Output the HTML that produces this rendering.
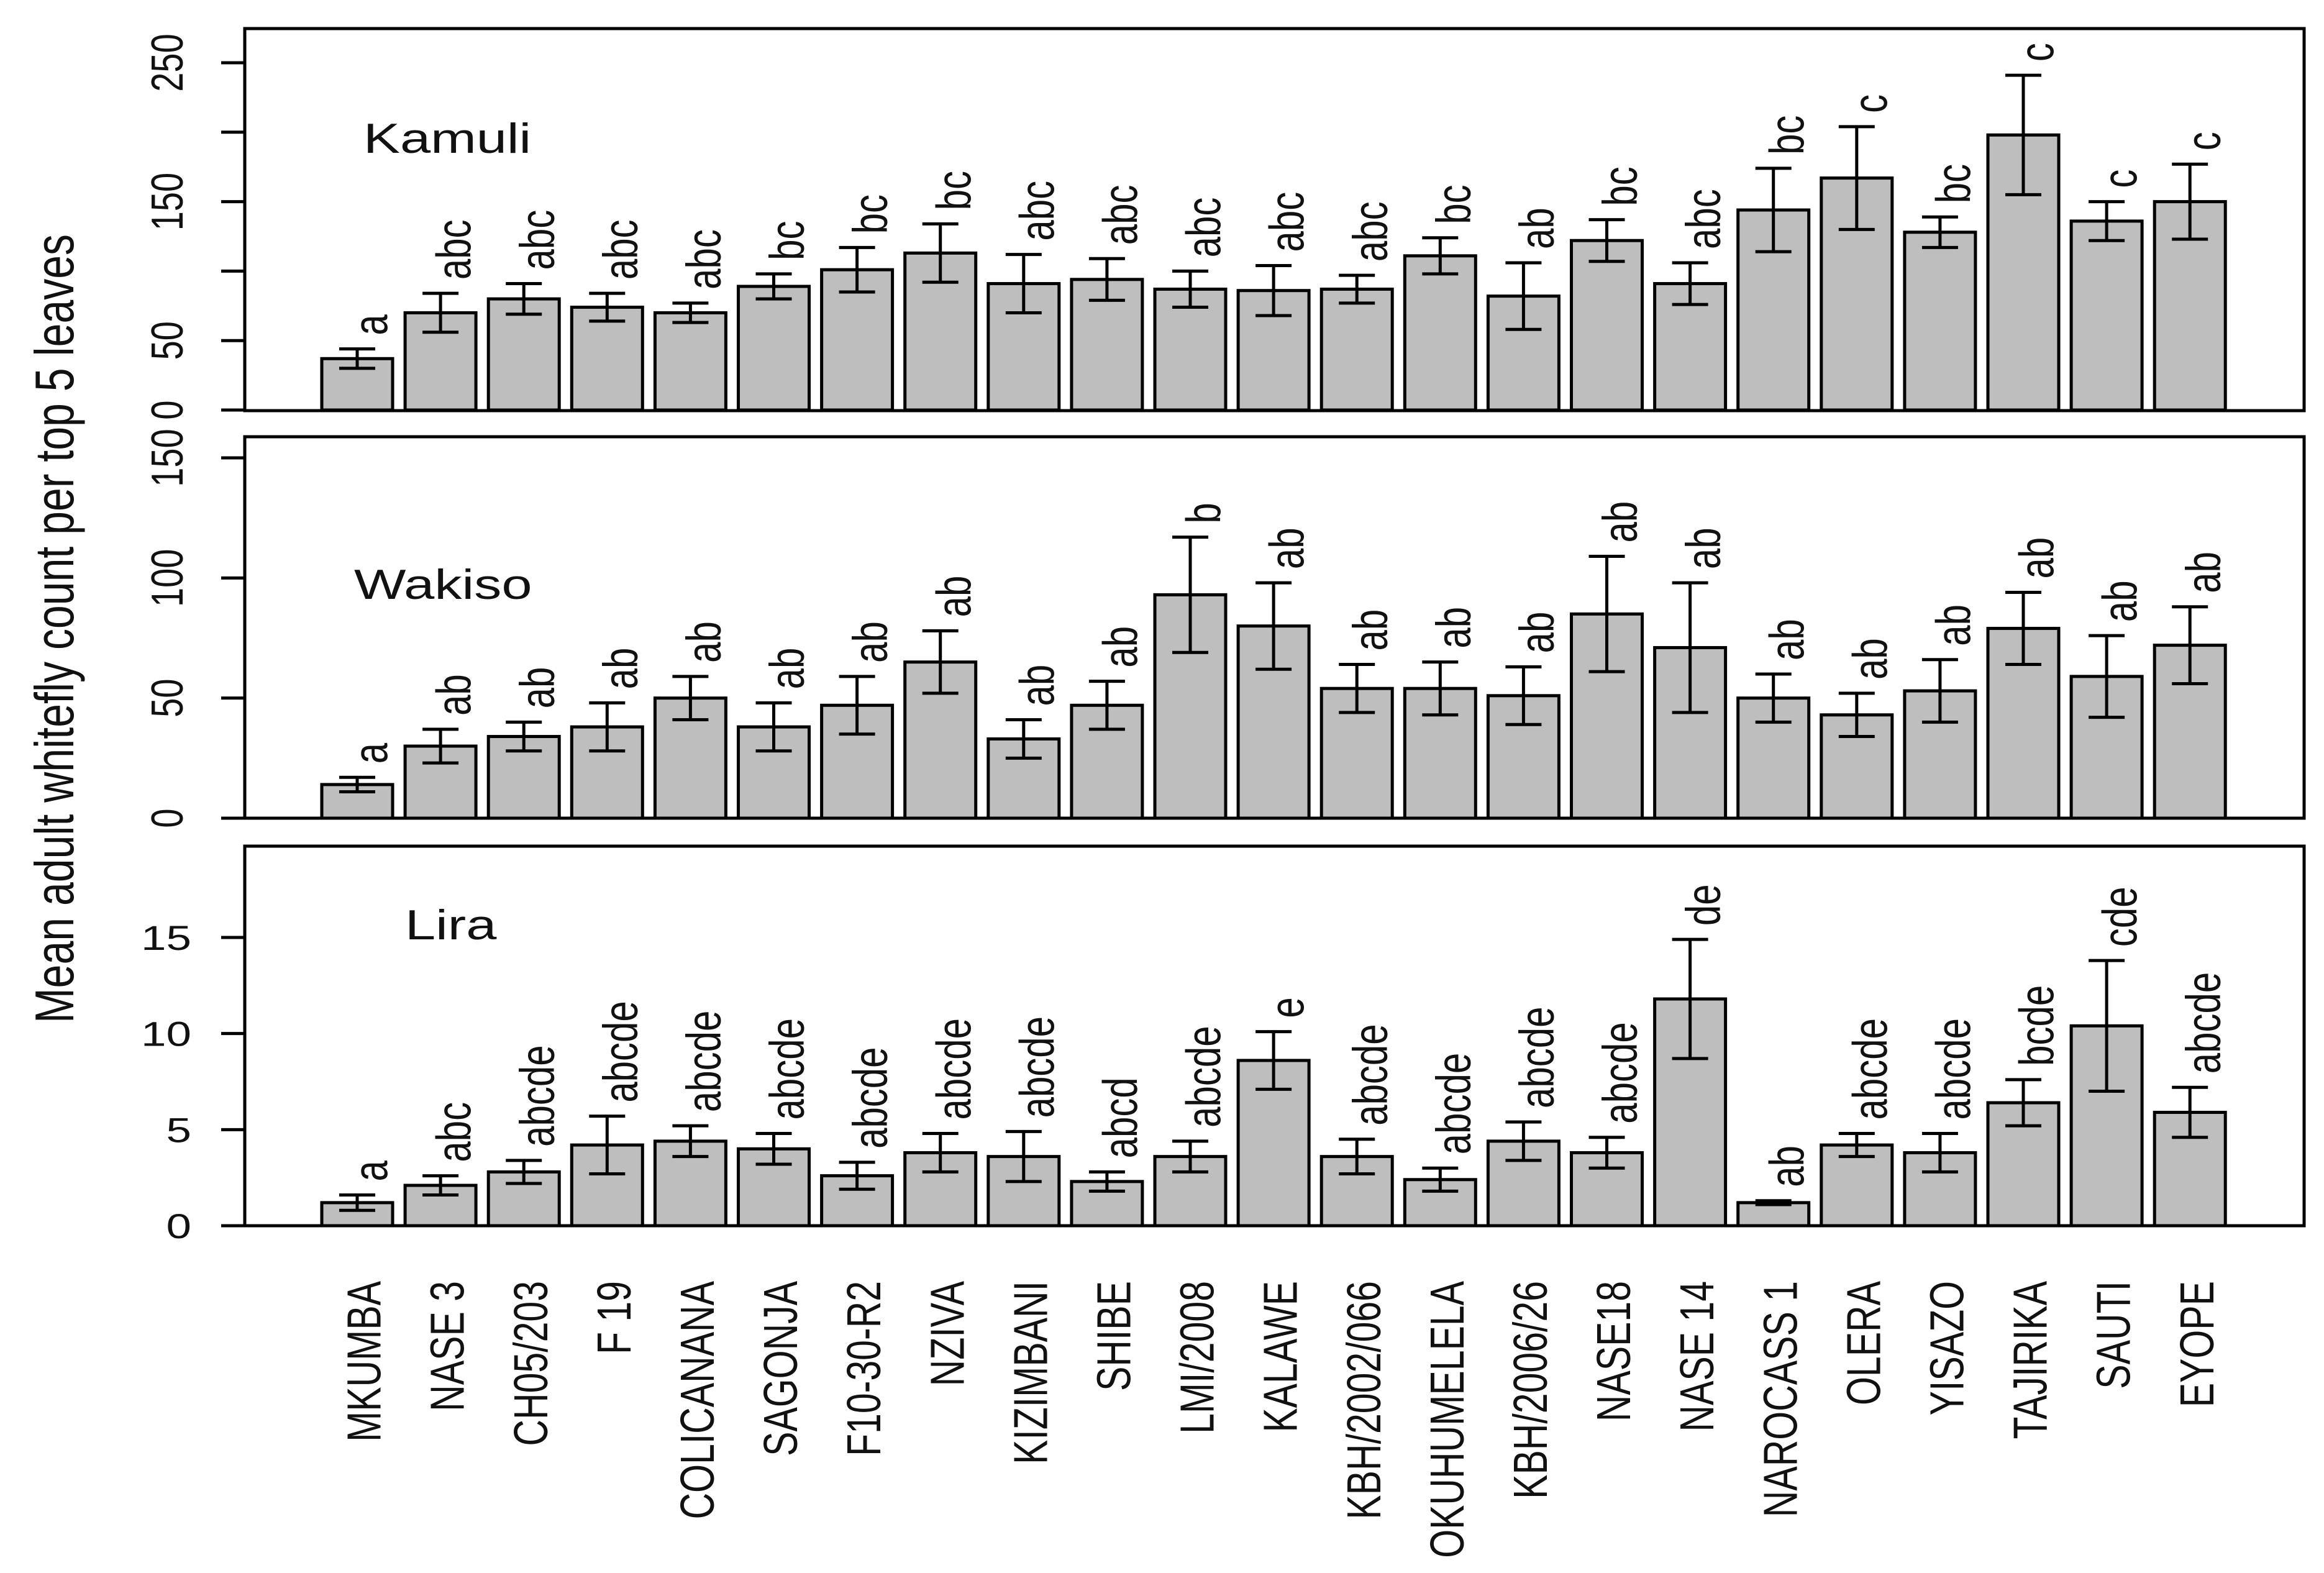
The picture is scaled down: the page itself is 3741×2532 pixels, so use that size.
<!DOCTYPE html>
<html><head><meta charset="utf-8"><style>
html,body{margin:0;padding:0;background:#fff}
svg{display:block}
text{font-family:"Liberation Sans",Arial,sans-serif;fill:#111}
</style></head><body>
<svg id="chart" xmlns="http://www.w3.org/2000/svg" width="3741" height="2532" viewBox="0 0 3741 2532">
<rect width="3741" height="2532" fill="#fff"/>
</svg>
<script>
const categories=["MKUMBA","NASE 3","CH05/203","F 19","COLICANANA","SAGONJA","F10-30-R2","NZIVA","KIZIMBANI","SHIBE","LMI/2008","KALAWE","KBH/2002/066","OKUHUMELELA","KBH/2006/26","NASE18","NASE 14","NAROCASS 1","OLERA","YISAZO","TAJIRIKA","SAUTI","EYOPE"];
const kamuliMeans=[37,70,80,74,70,89,101,113,91,94,87,86,87,111,82,122,91,144,167,128,198,136,150];
const kamuliSE=[7,14,11,10,7,9,16,21,21,15,13,18,10,13,24,15,15,30,37,11,43,14,27];
const kamuliLetters=["a","abc","abc","abc","abc","bc","bc","bc","abc","abc","abc","abc","abc","bc","ab","bc","abc","bc","c","bc","c","c","c"];
const wakisoMeans=[14,30,34,38,50,38,47,65,33,47,93,80,54,54,51,85,71,50,43,53,79,59,72];
const wakisoSE=[3,7,6,10,9,10,12,13,8,10,24,18,10,11,12,24,27,10,9,13,15,17,16];
const wakisoLetters=["a","ab","ab","ab","ab","ab","ab","ab","ab","ab","b","ab","ab","ab","ab","ab","ab","ab","ab","ab","ab","ab","ab"];
const liraMeans=[1.2,2.1,2.8,4.2,4.4,4.0,2.6,3.8,3.6,2.3,3.6,8.6,3.6,2.4,4.4,3.8,11.8,1.2,4.2,3.8,6.4,10.4,5.9];
const liraSE=[0.4,0.5,0.6,1.5,0.8,0.8,0.7,1.0,1.3,0.5,0.8,1.5,0.9,0.6,1.0,0.8,3.1,0.1,0.6,1.0,1.2,3.4,1.3];
const liraLetters=["a","abc","abcde","abcde","abcde","abcde","abcde","abcde","abcde","abcd","abcde","e","abcde","abcde","abcde","abcde","de","ab","abcde","abcde","bcde","cde","abcde"];
const kamuliTicks=[0,50,100,150,200,250];
const kamuliTickLabels=[0,50,150,250];
const wakisoTicks=[0,50,100,150];
const wakisoTickLabels=[0,50,100,150];
const liraTicks=[0,5,10,15];
const liraTickLabels=[0,5,10,15];

const svg=document.getElementById('chart');
const NS="http://www.w3.org/2000/svg";
const SX=1.3;
function mk(tag,attrs,parent){const e=document.createElementNS(NS,tag);for(const k in attrs)e.setAttribute(k,attrs[k]);(parent||svg).appendChild(e);return e;}
const L=394,R=3709;
function xCenter(i){return 575+i*134.1;}
const BW=114;

const panels=[
 {name:"kamuli",title:"Kamuli",top:46,bottom:661,zero:660,scale:(660-101)/250,means:kamuliMeans,se:kamuliSE,letters:kamuliLetters,ticks:kamuliTicks,tickLabels:kamuliTickLabels,rot:true,tx:585,ty:246},
 {name:"wakiso",title:"Wakiso",top:703,bottom:1317,zero:1317,scale:(1317-737)/150,means:wakisoMeans,se:wakisoSE,letters:wakisoLetters,ticks:wakisoTicks,tickLabels:wakisoTickLabels,rot:true,tx:570,ty:964},
 {name:"lira",title:"Lira",top:1362,bottom:1973,zero:1973,scale:(1973-1509)/15,means:liraMeans,se:liraSE,letters:liraLetters,ticks:liraTicks,tickLabels:liraTickLabels,rot:false,tx:652,ty:1512}
];

panels.forEach(p=>{
  const g=mk('g',{});
  
  
  const y=v=>p.zero-v*p.scale;
  p.means.forEach((m,i)=>{
    const cx=xCenter(i);
    const b=mk('rect',{x:cx-BW/2,y:y(m),width:BW,height:p.zero-y(m),fill:'#bebebe',stroke:'#000','stroke-width':5},g);
    
    
    const hi=y(m+p.se[i]),lo=y(Math.max(0,m-p.se[i]));
    const eb=mk('path',{d:`M${cx},${hi}V${lo}M${cx-29},${hi}H${cx+29}M${cx-29},${lo}H${cx+29}`,stroke:'#000','stroke-width':5,fill:'none'},g);
    
    
    const t=mk('text',{transform:`translate(${cx+20},${hi-22}) scale(${SX},1) rotate(-90)`,'font-size':60,dy:'0.36em','text-anchor':'start'},g);
    t.textContent=p.letters[i];
    
    
  });
  const f=mk('rect',{x:L,y:p.top,width:R-L,height:p.bottom-p.top,fill:'none',stroke:'#000','stroke-width':5},g);
  
  
  p.ticks.forEach(v=>{
    const ty=y(v);
    const tk=mk('line',{x1:356,x2:L,y1:ty,y2:ty,stroke:'#000','stroke-width':5},g);
    
    
  });
  p.tickLabels.forEach(v=>{
    const ty=y(v);
    let lab;
    if(p.rot){
      lab=mk('text',{transform:`translate(268,${ty}) scale(${SX},1) rotate(-90)`,'font-size':56,dy:'0.36em','text-anchor':'middle'},g);
    }else{
      lab=mk('text',{transform:`translate(308,${ty+20}) scale(${SX},1)`,'font-size':56,'text-anchor':'end'},g);
    }
    lab.textContent=v;
    
    
  });
  const tt=mk('text',{transform:`translate(${p.tx},${p.ty}) scale(${SX},1)`,'font-size':68,fill:'#333'},g);
  tt.textContent=p.title;
  
  
});

categories.forEach((c,i)=>{
  const t=mk('text',{transform:`translate(${xCenter(i)+10},2062) scale(${SX},1) rotate(-90)`,'font-size':59,dy:'0.36em','text-anchor':'end'});
  t.textContent=c;
  
  
});

const yt=mk('text',{transform:`translate(86,1012) scale(${SX},1) rotate(-90)`,'font-size':68,dy:'0.36em','text-anchor':'middle'});
yt.textContent="Mean adult whitefly count per top 5 leaves";


</script>
</body></html>
